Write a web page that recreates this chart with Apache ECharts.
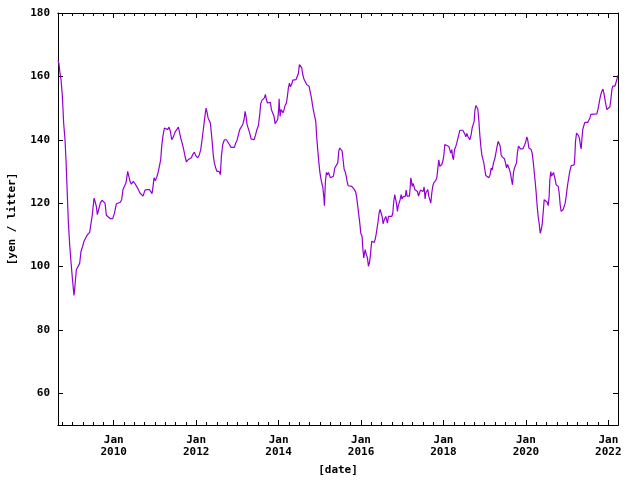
<!DOCTYPE html>
<html>
<head>
<meta charset="utf-8">
<script src="https://cdn.jsdelivr.net/npm/echarts@6/dist/echarts.min.js"></script>
<style>
  html, body { margin: 0; padding: 0; background: #fff; }
  #chart { width: 640px; height: 480px; }
</style>
</head>
<body>
<div id="chart"></div>
<script>
// weekly gasoline price (x = decimal year)
var years = [
  2008.648, 2008.672, 2008.696, 2008.721, 2008.753, 2008.785, 2008.818, 2008.842, 2008.866, 2008.899,
  2008.931, 2008.963, 2008.996, 2009.036, 2009.060, 2009.093, 2009.141, 2009.174, 2009.206, 2009.247,
  2009.279, 2009.319, 2009.360, 2009.416, 2009.449, 2009.481, 2009.522, 2009.546, 2009.578, 2009.603,
  2009.635, 2009.675, 2009.716, 2009.756, 2009.789, 2009.821, 2009.869, 2009.918, 2009.975, 2010.015,
  2010.064, 2010.112, 2010.161, 2010.193, 2010.225, 2010.266, 2010.298, 2010.339, 2010.371, 2010.395,
  2010.428, 2010.476, 2010.517, 2010.557, 2010.598, 2010.638, 2010.679, 2010.711, 2010.759, 2010.808,
  2010.865, 2010.905, 2010.929, 2010.954, 2010.978, 2011.010, 2011.051, 2011.083, 2011.115, 2011.140,
  2011.164, 2011.196, 2011.229, 2011.269, 2011.310, 2011.342, 2011.374, 2011.407, 2011.447, 2011.488,
  2011.528, 2011.569, 2011.593, 2011.625, 2011.658, 2011.698, 2011.730, 2011.763, 2011.803, 2011.844,
  2011.884, 2011.916, 2011.957, 2011.989,
  2012.038, 2012.078, 2012.111, 2012.143, 2012.175, 2012.208, 2012.240, 2012.264, 2012.289, 2012.321,
  2012.345, 2012.369, 2012.394, 2012.418, 2012.442, 2012.475, 2012.507, 2012.556, 2012.588, 2012.612,
  2012.645, 2012.685, 2012.734, 2012.774, 2012.806, 2012.847, 2012.887, 2012.928, 2012.960, 2012.992,
  2013.025, 2013.057, 2013.098, 2013.130, 2013.162, 2013.187, 2013.211, 2013.235, 2013.267, 2013.300,
  2013.332, 2013.365, 2013.405, 2013.437, 2013.470, 2013.510, 2013.543, 2013.567, 2013.599, 2013.632,
  2013.656, 2013.680, 2013.704, 2013.729, 2013.753, 2013.777, 2013.801, 2013.826, 2013.858, 2013.890,
  2013.915, 2013.955, 2013.979, 2014.004, 2014.012, 2014.036, 2014.060, 2014.085, 2014.109, 2014.133,
  2014.157, 2014.190, 2014.214, 2014.238, 2014.263, 2014.287, 2014.319, 2014.344, 2014.384, 2014.424,
  2014.457, 2014.481, 2014.505, 2014.538, 2014.562, 2014.586, 2014.619, 2014.651, 2014.683, 2014.716,
  2014.740, 2014.764, 2014.797, 2014.821, 2014.845, 2014.877, 2014.902, 2014.926, 2014.950, 2014.975,
  2014.999, 2015.023, 2015.047, 2015.072, 2015.096, 2015.112, 2015.136, 2015.161, 2015.185, 2015.209,
  2015.234, 2015.258, 2015.298, 2015.331, 2015.363, 2015.387, 2015.411, 2015.436, 2015.460, 2015.484,
  2015.517, 2015.541, 2015.565, 2015.589, 2015.614, 2015.638, 2015.662, 2015.687, 2015.711, 2015.735,
  2015.776, 2015.816, 2015.840, 2015.873, 2015.897, 2015.921, 2015.945, 2015.970, 2015.994, 2016.026,
  2016.043, 2016.067, 2016.083, 2016.099, 2016.115, 2016.132, 2016.156, 2016.180, 2016.204, 2016.229,
  2016.245, 2016.261, 2016.285, 2016.318, 2016.342, 2016.366, 2016.390, 2016.415, 2016.439, 2016.463,
  2016.488, 2016.512, 2016.536, 2016.560, 2016.585, 2016.601, 2016.617, 2016.641, 2016.665, 2016.706,
  2016.746, 2016.771, 2016.795, 2016.819, 2016.835, 2016.860, 2016.884, 2016.900, 2016.924, 2016.949,
  2016.973, 2016.997, 2017.021, 2017.046, 2017.078, 2017.094, 2017.119, 2017.151, 2017.175, 2017.191,
  2017.208, 2017.224, 2017.240, 2017.264, 2017.289, 2017.305, 2017.337, 2017.369, 2017.394, 2017.418,
  2017.442, 2017.475, 2017.507, 2017.531, 2017.555, 2017.572, 2017.596, 2017.620, 2017.644, 2017.669,
  2017.693, 2017.717, 2017.742, 2017.766, 2017.790, 2017.814, 2017.839, 2017.863, 2017.887, 2017.911,
  2017.936, 2017.960, 2017.984, 2018.009, 2018.033, 2018.057, 2018.081, 2018.130, 2018.154, 2018.178,
  2018.203, 2018.219, 2018.243, 2018.259, 2018.275, 2018.300, 2018.324, 2018.348, 2018.373, 2018.397,
  2018.429, 2018.470, 2018.502, 2018.526, 2018.542, 2018.567, 2018.591, 2018.615, 2018.640, 2018.656,
  2018.672, 2018.696, 2018.720, 2018.745, 2018.761, 2018.785, 2018.809, 2018.834, 2018.858, 2018.882,
  2018.907, 2018.931, 2018.955, 2018.979, 2019.004, 2019.028, 2019.060, 2019.101, 2019.133, 2019.157,
  2019.182, 2019.214, 2019.246, 2019.279, 2019.303, 2019.327, 2019.352, 2019.376, 2019.400, 2019.424,
  2019.449, 2019.481, 2019.505, 2019.530, 2019.554, 2019.578, 2019.602, 2019.627, 2019.651, 2019.675,
  2019.699, 2019.724, 2019.748, 2019.772, 2019.796, 2019.821, 2019.845, 2019.869, 2019.902, 2019.926,
  2019.950, 2019.974, 2019.999, 2020.023, 2020.047, 2020.072, 2020.104, 2020.128, 2020.152, 2020.177,
  2020.201, 2020.225, 2020.250, 2020.274, 2020.298, 2020.322, 2020.347, 2020.371, 2020.395, 2020.419,
  2020.444, 2020.468, 2020.492, 2020.517, 2020.541, 2020.565, 2020.581, 2020.606, 2020.622, 2020.646,
  2020.670, 2020.695, 2020.711, 2020.735, 2020.759, 2020.784, 2020.808, 2020.832, 2020.856, 2020.881,
  2020.905, 2020.929, 2020.953, 2020.978, 2021.002, 2021.026, 2021.051, 2021.075, 2021.099, 2021.123,
  2021.172, 2021.188, 2021.204, 2021.229, 2021.253, 2021.277, 2021.301, 2021.326, 2021.342, 2021.358,
  2021.382, 2021.407, 2021.431, 2021.455, 2021.479, 2021.504, 2021.528, 2021.552, 2021.576, 2021.601,
  2021.722, 2021.747, 2021.771, 2021.795, 2021.819, 2021.844, 2021.868, 2021.892, 2021.916, 2021.941,
  2021.965, 2021.989, 2022.013, 2022.038, 2022.062, 2022.086, 2022.110, 2022.135, 2022.159, 2022.183,
  2022.207, 2022.232
];

var prices = [
  165.0, 164.0, 161.0, 159.0, 154.0, 145.3, 140.0, 133.7, 125.3, 114.0,
  107.0, 101.5, 96.4, 90.9, 94.0, 99.0, 99.5, 101.0, 104.8, 106.4,
  108.0, 109.0, 110.0, 110.8, 111.0, 116.4, 121.6, 120.6, 119.0, 116.4,
  118.0, 120.0, 120.9, 120.9, 120.0, 116.2, 115.8, 115.1, 115.1, 116.7,
  119.8, 120.3, 120.3, 121.1, 124.3, 124.8, 126.4, 130.0, 129.5, 126.9,
  126.0, 126.9, 126.4, 125.3, 124.3, 123.2, 122.7, 122.2, 124.1, 124.3,
  124.3, 124.3, 123.0, 125.3, 128.0, 127.1, 128.5, 130.0, 130.4, 133.7,
  138.0, 141.3, 143.7, 143.4, 143.2, 144.0, 142.7, 140.0, 140.9, 142.4,
  142.7, 144.0, 144.0, 140.6, 139.0, 136.9, 134.8, 133.0, 133.7, 134.0,
  134.3, 135.3, 136.1, 135.0,
  134.3, 135.3, 136.9, 140.0, 143.4, 146.9, 150.0, 148.7, 146.9, 146.9,
  145.3, 142.1, 138.5, 134.8, 132.7, 131.1, 130.0, 130.0, 129.0, 134.8,
  138.5, 140.0, 140.0, 139.8, 138.5, 137.6, 137.1, 137.6, 139.0, 139.8,
  141.6, 143.2, 143.7, 144.8, 146.4, 149.0, 147.4, 144.8, 144.8, 142.1,
  140.3, 140.0, 140.0, 141.3, 143.0, 144.5, 148.0, 151.4, 152.5, 152.9,
  153.2, 154.3, 152.7, 151.6, 151.4, 151.6, 151.8, 149.5, 149.0, 147.4,
  145.1, 145.1, 146.4, 150.0, 152.9, 147.4, 149.5, 150.0, 148.5, 149.5,
  150.8, 151.6, 153.7, 156.4, 157.9, 156.7, 157.6, 158.8, 159.0, 159.0,
  159.0, 160.9, 163.7, 164.0, 162.7, 160.6, 159.0, 158.2, 157.4, 157.9,
  156.9, 155.3, 153.2, 151.1, 149.3, 149.0, 145.8, 140.6, 136.9, 133.2,
  130.0, 128.0, 126.4, 125.1, 122.2, 119.2, 126.9, 129.7, 129.0, 129.7,
  129.5, 128.0, 128.0, 128.5, 131.1, 131.6, 130.6, 132.7, 136.4, 137.4,
  137.4, 136.4, 133.7, 130.8, 130.0, 128.7, 126.9, 125.5, 125.8, 125.3,
  125.3, 125.1, 124.3, 123.4, 121.6, 119.0, 116.4, 113.7, 110.6, 109.5,
  105.8, 102.7, 102.2, 105.3, 104.8, 103.7, 102.7, 100.1, 101.1, 103.7,
  106.2, 108.0, 107.4, 107.6, 108.5, 110.1, 112.2, 114.3, 116.9, 118.0,
  118.0, 115.8, 113.5, 114.6, 114.8, 115.8, 115.3, 113.7, 115.8, 115.8,
  115.8, 116.9, 120.6, 122.7, 121.6, 120.0, 117.4, 119.0, 120.0, 121.1,
  122.7, 121.3, 122.0, 122.2, 122.2, 124.1, 122.2, 122.2, 122.2, 124.8,
  128.0, 126.9, 125.3, 126.2, 125.1, 124.3, 124.3, 123.7, 122.2, 123.2,
  124.1, 124.3, 123.7, 125.1, 121.3, 123.2, 123.0, 124.3, 122.2, 121.6,
  120.0, 123.2, 125.5, 126.4, 126.6, 127.2, 128.0, 130.8, 133.7, 131.6,
  132.2, 132.2, 133.2, 135.0, 138.5, 138.8, 137.9, 137.9, 137.9, 135.8,
  136.9, 134.8, 133.7, 135.8, 137.1, 137.9, 139.0, 139.5, 141.6, 143.0,
  143.0, 143.0, 143.0, 141.6, 140.9, 142.0, 141.1, 140.6, 140.0, 140.0,
  141.6, 143.7, 144.0, 145.8, 149.0, 150.8, 150.4, 149.7, 146.2, 141.6,
  137.9, 135.3, 134.0, 132.7, 130.6, 128.7, 128.3, 128.0, 129.0, 131.1,
  130.4, 132.7, 134.0, 134.3, 138.0, 139.5, 140.0, 138.0, 135.3, 134.6,
  134.0, 134.0, 132.7, 131.1, 132.2, 131.8, 130.6, 129.3, 127.4, 125.8,
  129.7, 131.1, 131.1, 132.7, 136.1, 138.0, 137.4, 137.1, 136.6, 137.1,
  137.7, 138.5, 139.5, 140.9, 139.8, 137.4, 137.1, 136.9, 135.8, 133.2,
  130.0, 126.9, 123.2, 119.0, 115.8, 113.7, 110.5, 111.6, 113.2, 116.9,
  121.1, 121.6, 120.9, 120.3, 119.2, 122.2, 127.4, 130.0, 128.5, 128.0,
  129.7, 130.0, 127.4, 125.8, 125.5, 125.3, 123.2, 119.5, 117.4, 116.9,
  118.0, 119.0, 120.0, 122.2, 124.8, 126.9, 129.0, 130.6, 131.8, 132.1,
  132.1, 134.8, 139.5, 142.1, 141.6, 141.3, 140.3, 138.0, 137.1, 140.0,
  143.4, 144.5, 145.5, 146.0, 145.1, 145.5, 146.2, 146.9, 148.0, 148.2,
  148.2, 149.5, 151.1, 152.9, 154.3, 155.3, 156.0, 154.8, 152.9, 151.1,
  149.5, 149.2, 149.7, 150.4, 152.7, 155.8, 156.9, 156.4, 156.9, 157.9,
  159.0, 160.3
];

var yearTicks = [2010, 2012, 2014, 2016, 2018, 2020, 2022];
var quarterTicks = [];
for (var q = 2008.75; q <= 2022.0001; q += 0.25) quarterTicks.push(+q.toFixed(2));
var priceTicks = [60, 80, 100, 120, 140, 160, 180];

var xMin = 2008.648, xMax = 2022.235;
var font = 'DejaVu Sans Mono';

var pts = years.map(function (y, i) { return [y, prices[i]]; });

function xAxisOf(pos, ticks, len, labels) {
  return {
    type: 'value', position: pos, min: xMin, max: xMax,
    axisLine: { show: true, onZero: false, lineStyle: { color: '#000', width: 1 } },
    axisTick: { show: true, inside: true, length: len, customValues: ticks, lineStyle: { color: '#000' } },
    axisLabel: labels ? {
      show: true, customValues: yearTicks, margin: 9, color: '#000',
      fontFamily: font, fontWeight: 'bold', fontSize: 11, lineHeight: 12,
      formatter: function (v) { return 'Jan\n' + Math.round(v); }
    } : { show: false },
    splitLine: { show: false }
  };
}

function yAxisOf(pos, labels) {
  return {
    type: 'value', position: pos, min: 50, max: 180,
    axisLine: { show: true, onZero: false, lineStyle: { color: '#000', width: 1 } },
    axisTick: { show: true, inside: true, length: 5, customValues: priceTicks, lineStyle: { color: '#000' } },
    axisLabel: labels ? {
      show: true, customValues: priceTicks, margin: 8, color: '#000',
      fontFamily: font, fontWeight: 'bold', fontSize: 11
    } : { show: false },
    splitLine: { show: false }
  };
}

var chart = echarts.init(document.getElementById('chart'));

var xMain = xAxisOf('bottom', yearTicks, 5, true);
xMain.name = '[date]';
xMain.nameLocation = 'middle';
xMain.nameGap = 40;
xMain.nameTextStyle = { color: '#000', fontFamily: font, fontWeight: 'bold', fontSize: 11 };

var yMain = yAxisOf('left', true);
yMain.name = '[yen / litter]';
yMain.nameLocation = 'middle';
yMain.nameGap = 40;
yMain.nameTextStyle = { color: '#000', fontFamily: font, fontWeight: 'bold', fontSize: 11 };

var option = {
  animation: false,
  backgroundColor: '#fff',
  grid: { left: 58, right: 22, top: 13, bottom: 55, containLabel: false, outerBoundsMode: 'none' },
  xAxis: [
    xMain,
    xAxisOf('bottom', quarterTicks, 3, false),
    xAxisOf('top', yearTicks, 5, false),
    xAxisOf('top', quarterTicks, 3, false)
  ],
  yAxis: [
    yMain,
    yAxisOf('right', false)
  ],
  series: [{
    type: 'line',
    xAxisIndex: 0,
    yAxisIndex: 0,
    data: pts,
    showSymbol: false,
    lineStyle: { color: '#9400d3', width: 1.2 },
    itemStyle: { color: '#9400d3' }
  }]
};

chart.setOption(option);
</script>
</body>
</html>
